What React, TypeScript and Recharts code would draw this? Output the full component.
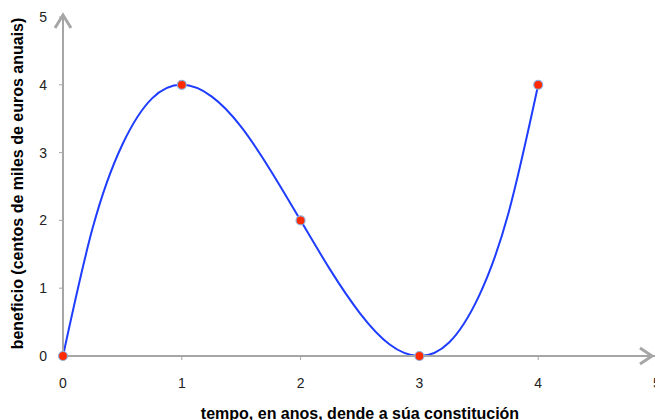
import React from 'react';
import { ComposedChart, Line, Scatter, XAxis, YAxis, ReferenceDot, Label } from 'recharts';

// curve, every quarter year
const curveT = [0, 0.25, 0.5, 0.75, 1, 1.25, 1.5, 1.75, 2, 2.25, 2.5, 2.75, 3, 3.25, 3.5, 3.75, 4];
const curveB = [0, 1.89, 3.12, 3.8, 4, 3.83, 3.38, 2.73, 2, 1.27, 0.63, 0.17, 0, 0.2, 0.88, 2.11, 4];

// marked points
const years = [0, 1, 2, 3, 4];
const profit = [0, 4, 2, 0, 4];

const xTicks = [0, 1, 2, 3, 4, 5];
const yTicks = [0, 1, 2, 3, 4, 5];

const curveData = curveT.map((t, i) => ({ t, b: curveB[i] }));
const pointData = years.map((t, i) => ({ t, b: profit[i] }));

const FONT = '"Liberation Sans", Arial, Helvetica, sans-serif';
const AXIS = '#a6a6a6';

const RedDot = (props: any) => (
  <circle cx={props.cx} cy={props.cy} r={4.5} fill="#ff2a00" stroke="#8fb0dc" strokeWidth={1.2} />
);

const ArrowRight = (props: any) => {
  const { cx, cy } = props;
  return (
    <path
      d={`M${cx - 17},${cy - 8} L${cx - 5},${cy} L${cx - 17},${cy + 8}`}
      fill="none"
      stroke={AXIS}
      strokeWidth={3}
    />
  );
};

const ArrowUp = (props: any) => {
  const { cx, cy } = props;
  return (
    <path
      d={`M${cx - 8},${cy + 11} L${cx},${cy - 2} L${cx + 8},${cy + 11}`}
      fill="none"
      stroke={AXIS}
      strokeWidth={3}
    />
  );
};

const App = () => {
  return (
    <div style={{ position: 'absolute', left: 0, top: 0, width: 655, height: 420, overflow: 'hidden', background: '#fff' }}>
      <ComposedChart width={680} height={420} margin={{ top: 17, right: 23, bottom: 0, left: 0 }}>
        <XAxis
          type="number"
          dataKey="t"
          domain={[0, 5]}
          ticks={xTicks}
          height={64}
          axisLine={{ stroke: AXIS, strokeWidth: 2 }}
          tickLine={{ stroke: AXIS }}
          tickSize={4}
          tickMargin={18}
          tick={{ fill: '#222', fontSize: 14, fontFamily: FONT }}
        >
          <Label
            content={(p: any) => (
              <text
                x={p.viewBox.x + p.viewBox.width / 2}
                y={419}
                textAnchor="middle"
                fontFamily={FONT}
                fontSize={16}
                fontWeight="bold"
                fill="#000"
              >
                tempo, en anos, dende a súa constitución
              </text>
            )}
          />
        </XAxis>
        <YAxis
          type="number"
          dataKey="b"
          domain={[0, 5]}
          ticks={yTicks}
          width={63}
          axisLine={{ stroke: AXIS, strokeWidth: 2 }}
          tickLine={{ stroke: AXIS }}
          tickSize={4}
          tickMargin={12}
          tick={{ fill: '#222', fontSize: 14, fontFamily: FONT }}
        >
          <Label
            content={(p: any) => {
              const cy = p.viewBox.y + p.viewBox.height / 2 - 3;
              return (
                <text
                  x={23}
                  y={cy}
                  transform={`rotate(-90 23 ${cy})`}
                  textAnchor="middle"
                  fontFamily={FONT}
                  fontSize={16}
                  fontWeight="bold"
                  fill="#000"
                >
                  beneficio (centos de miles de euros anuais)
                </text>
              );
            }}
          />
        </YAxis>
        <ReferenceDot x={5} y={0} r={0} shape={ArrowRight} ifOverflow="visible" />
        <ReferenceDot x={0} y={5} r={0} shape={ArrowUp} ifOverflow="visible" />
        <Line
          data={curveData}
          dataKey="b"
          type="natural"
          stroke="#1f3dff"
          strokeWidth={2}
          dot={false}
          activeDot={false}
          isAnimationActive={false}
        />
        <Scatter data={pointData} dataKey="b" shape={RedDot} isAnimationActive={false} />
      </ComposedChart>
    </div>
  );
};

export default App;
